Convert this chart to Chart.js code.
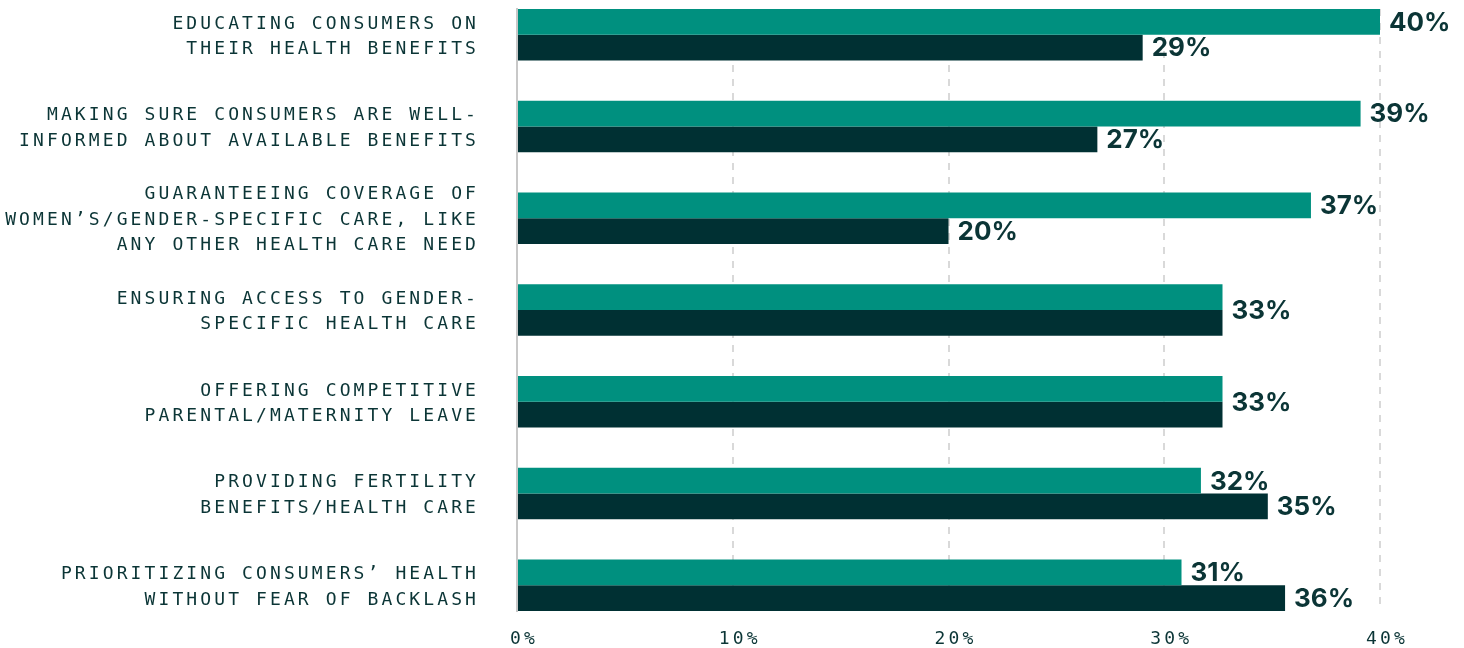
<!DOCTYPE html>
<html>
<head>
<meta charset="utf-8">
<script src="https://cdn.jsdelivr.net/npm/chart.js@4/dist/chart.umd.min.js"></script>
<style>
  html, body { margin: 0; padding: 0; background: #ffffff; }
  #wrap { width: 1464px; height: 648px; position: relative; }
</style>
</head>
<body>
<div id="wrap"><canvas id="c"></canvas></div>
<script>
// ---- Data ----
const categories = [
  ["EDUCATING CONSUMERS ON", "THEIR HEALTH BENEFITS"],
  ["MAKING SURE CONSUMERS ARE WELL-", "INFORMED ABOUT AVAILABLE BENEFITS"],
  ["GUARANTEEING COVERAGE OF", "WOMEN\u2019S/GENDER-SPECIFIC CARE, LIKE", "ANY OTHER HEALTH CARE NEED"],
  ["ENSURING ACCESS TO GENDER-", "SPECIFIC HEALTH CARE"],
  ["OFFERING COMPETITIVE", "PARENTAL/MATERNITY LEAVE"],
  ["PROVIDING FERTILITY", "BENEFITS/HEALTH CARE"],
  ["PRIORITIZING CONSUMERS\u2019 HEALTH", "WITHOUT FEAR OF BACKLASH"]
];
const seriesA = [40.0, 39.1, 36.8, 32.7, 32.7, 31.7, 30.8];
const seriesB = [29.0, 26.9, 20.0, 32.7, 32.7, 34.8, 35.6];
const xTicks = [0, 10, 20, 30, 40];

const TEAL = '#00907f';
const DARK = '#003033';
const TEXT = '#0b3536';
const SPACING = '3.1px';

function pts(arr) { return arr.map((v, i) => ({ x: v, y: i })); }
function fmt(v) { return Math.round(v) + '%'; }

const spacingPlugin = {
  id: 'spacing',
  beforeUpdate(c) { c.ctx.letterSpacing = SPACING; },
  beforeLayout(c) { c.ctx.letterSpacing = SPACING; },
  beforeDraw(c) { c.ctx.letterSpacing = SPACING; },
  afterDatasetsDraw(c) {
    const ctx = c.ctx;
    const mA = c.getDatasetMeta(0), mB = c.getDatasetMeta(1);
    ctx.save();
    ctx.letterSpacing = '0px';
    ctx.font = '700 26px Inter, "Liberation Sans", Arial, sans-serif';
    ctx.fillStyle = TEXT;
    ctx.textAlign = 'left';
    ctx.textBaseline = 'middle';
    const gap = 9;
    for (let i = 0; i < categories.length; i++) {
      const a = mA.data[i], b = mB.data[i];
      const va = seriesA[i], vb = seriesB[i];
      if (fmt(va) === fmt(vb)) {
        ctx.fillText(fmt(va), Math.max(a.x, b.x) + gap, (a.y + b.y) / 2 + 1);
      } else {
        ctx.fillText(fmt(va), a.x + gap, a.y + 1);
        ctx.fillText(fmt(vb), b.x + gap, b.y + 1);
      }
    }
    ctx.restore();
    ctx.letterSpacing = SPACING;
  }
};

new Chart(document.getElementById('c'), {
  type: 'bar',
  data: {
    datasets: [
      { data: pts(seriesA), backgroundColor: TEAL, borderWidth: 0, clip: false },
      { data: pts(seriesB), backgroundColor: DARK, borderWidth: 0, clip: false }
    ]
  },
  options: {
    indexAxis: 'y',
    responsive: true,
    maintainAspectRatio: false,
    animation: false,
    categoryPercentage: 0.56,
    barPercentage: 1.0,
    layout: { padding: { top: 9, right: 84, bottom: 0, left: 0 } },
    plugins: { legend: { display: false }, tooltip: { enabled: false } },
    scales: {
      x: {
        type: 'linear',
        position: 'bottom',
        min: xTicks[0],
        max: xTicks[xTicks.length - 1],
        afterBuildTicks(s) { s.ticks = xTicks.map(v => ({ value: v })); },
        afterFit(s) { s.height = 37; },
        border: { display: false, dash: [7, 7] },
        grid: { color: '#d9d9d9', lineWidth: 2, drawTicks: false },
        ticks: {
          padding: 18,
          labelOffset: 7,
          color: TEXT,
          font: { family: '"DejaVu Sans Mono", "Liberation Mono", monospace', size: 18 },
          callback: v => v + '%'
        }
      },
      y: {
        type: 'linear',
        reverse: true,
        offset: false,
        min: -0.28,
        max: 6.28,
        afterBuildTicks(s) { s.ticks = categories.map((_, i) => ({ value: i })); },
        afterFit(s) { s.width = 517; s.paddingTop = 0; s.paddingBottom = 0; },
        border: { display: true, color: '#c8c8c8', width: 2 },
        grid: { display: false, drawTicks: false, offset: false },
        ticks: {
          autoSkip: false,
          padding: 38,
          labelOffset: 2,
          color: TEXT,
          font: { family: '"DejaVu Sans Mono", "Liberation Mono", monospace', size: 18, lineHeight: '25.5px' },
          callback: v => Number.isInteger(v) && categories[v] ? categories[v] : ''
        }
      }
    }
  },
  plugins: [spacingPlugin]
});
</script>
</body>
</html>
